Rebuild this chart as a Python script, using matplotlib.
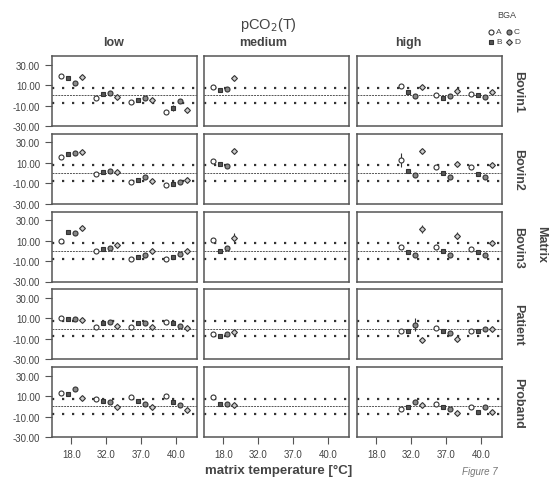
import matplotlib.pyplot as plt
from matplotlib.lines import Line2D

plt.rcParams['font.family'] = ['Liberation Sans', 'DejaVu Sans']

temps = ["18.0", "32.0", "37.0", "40.0"]
levels = ["low", "medium", "high"]
matrices = ["Bovin1", "Bovin2", "Bovin3", "Patient", "Proband"]
bgas = ["A", "B", "C", "D"]
yticks = [30, 10, -10, -30]
limit = 7.5

# deviation (%) per BGA A-D at each temperature; None = not measured
bovin1_low = [[19, 17, 12, 18], [-3, 1, 2, -2], [-7, -5, -3, -5], [-16, -12, -6, -14]]
bovin1_medium = [[8, 5, 6, 17], None, None, None]
bovin1_high = [None, [9, 3, -1, 8], [0, -3, -1, 4], [1, 0, -2, 3]]

bovin2_low = [[16, 19, 20, 21], [-1, 1, 2, 1], [-9, -7, -4, -8], [-12, -11, -9, -7]]
bovin2_medium = [[12, 9, 7, 22], None, None, None]
bovin2_high = [None, [13, 2, -2, 22], [6, 0, -4, 9], [6, -1, -4, 8]]

bovin3_low = [[10, 18, 17, 22], [0, 2, 3, 6], [-8, -6, -4, 0], [-8, -6, -3, 0]]
bovin3_medium = [[11, 0, 3, 13], None, None, None]
bovin3_high = [None, [4, -1, -4, 21], [4, 0, -4, 15], [2, -1, -4, 8]]

patient_low = [[10, 9, 9, 8], [2, 5, 6, 3], [2, 5, 5, 2], [6, 5, 3, 1]]
patient_medium = [[-5, -7, -5, -3], None, None, None]
patient_high = [None, [-2, -2, 4, -11], [1, -2, -4, -10], [-2, -2, 0, 0]]

proband_low = [[13, 12, 17, 8], [7, 5, 4, -1], [9, 5, 2, -1], [10, 4, 1, -4]]
proband_medium = [[9, 2, 2, 1], None, None, None]
proband_high = [None, [-3, -1, 4, 1], [2, -1, -3, -7], [-1, -6, -1, -6]]

# error bar half widths; the rest use base_err
base_err = 1.8
big_err = {("Bovin2", "high", 1, 0): 7, ("Bovin3", "high", 1, 3): 4,
           ("Bovin3", "medium", 0, 3): 4, ("Bovin3", "high", 2, 3): 3,
           ("Patient", "high", 1, 2): 6, ("Bovin1", "low", 3, 1): 3}

data = {
    "Bovin1": [bovin1_low, bovin1_medium, bovin1_high],
    "Bovin2": [bovin2_low, bovin2_medium, bovin2_high],
    "Bovin3": [bovin3_low, bovin3_medium, bovin3_high],
    "Patient": [patient_low, patient_medium, patient_high],
    "Proband": [proband_low, proband_medium, proband_high],
}

W, H = 551, 481
fig = plt.figure(figsize=(W / 100, H / 100), dpi=100)
lefts = [52, 204, 357]
tops = [57, 134.75, 212.5, 290.25, 368]
pw, ph = 145, 70
dodge = [-0.3, -0.1, 0.1, 0.3]
styles = {"A": dict(marker="o", mfc="white", ms=3.6),
          "B": dict(marker="s", mfc="#555555", ms=3.2),
          "C": dict(marker="o", mfc="#888888", ms=3.6),
          "D": dict(marker="D", mfc="#cccccc", ms=3.0)}
edge = "#333333"
grey = "#444444"

for r, m in enumerate(matrices):
    for c, lev in enumerate(levels):
        ax = fig.add_axes([lefts[c] / W, 1 - (tops[r] + ph) / H, pw / W, ph / H])
        ax.set_xlim(0.45, 4.6)
        ax.set_ylim(-30, 38.5)
        for s in ax.spines.values():
            s.set_color("#555555")
            s.set_linewidth(1.1)
        ax.axhline(limit, color="#333333", lw=1.6, ls=(0, (1, 3.5)))
        ax.axhline(-limit, color="#333333", lw=1.6, ls=(0, (1, 3.5)))
        ax.axhline(0, color="#555555", lw=0.7, ls=(0, (2, 1)))
        for t, vals in enumerate(data[m][c]):
            if vals is None:
                continue
            for b, bga in enumerate(bgas):
                x = t + 1 + dodge[b]
                e = big_err.get((m, lev, t, b), base_err)
                ax.errorbar([x], [vals[b]], yerr=[e], fmt="none", ecolor=edge,
                            elinewidth=0.8, capsize=0)
                ax.plot([x], [vals[b]], ls="none", mec=edge, mew=0.8,
                        **styles[bga])
        ax.set_xticks([1, 2, 3, 4])
        ax.set_yticks(yticks)
        ax.tick_params(colors="#555555", labelcolor=grey, labelsize=7,
                       length=5, width=0.8)
        if c == 0:
            ax.set_yticklabels([f"{v:.2f}" for v in yticks])
        else:
            ax.tick_params(axis="y", length=0, labelleft=False)
        if r == len(matrices) - 1:
            ax.set_xticklabels(temps)
        else:
            ax.tick_params(axis="x", length=0, labelbottom=False)
        if c == 2:
            ax.text(1.07, 0.5, m, transform=ax.transAxes, rotation=270,
                    ha="left", va="center", fontsize=9, fontweight="bold",
                    color=grey)


def px(x, y):
    return x / W, 1 - y / H


fig.text(*px(268, 25), "pCO$_2$(T)", ha="center", va="center", fontsize=10.5,
         color=grey)
for lev, x in zip(levels, [114, 263, 408]):
    fig.text(*px(x, 43), lev, ha="center", va="center", fontsize=9,
             fontweight="bold", color=grey)
fig.text(*px(541, 245), "Matrix", rotation=270, ha="center", va="center",
         fontsize=9, fontweight="bold", color=grey)
fig.text(*px(279, 471), "matrix temperature [°C]", ha="center", va="center",
         fontsize=9.5, fontweight="bold", color=grey)
fig.text(*px(480, 472), "Figure 7", ha="center", va="center", fontsize=7,
         style="italic", color="#777777")

# legend
fig.text(*px(507, 15), "BGA", ha="center", va="center", fontsize=6.5, color=grey)
leg_pos = {"A": (491, 33), "B": (491, 43), "C": (509, 33), "D": (509, 43)}
for bga in bgas:
    lx, ly = leg_pos[bga]
    fig.add_artist(Line2D([lx / W], [1 - ly / H], transform=fig.transFigure,
                          ls="none", mec=edge, mew=0.8, **styles[bga]))
    fig.text(*px(lx + 5, ly), bga, ha="left", va="center", fontsize=6,
             color=grey)

fig.savefig("out.png", dpi=100)
